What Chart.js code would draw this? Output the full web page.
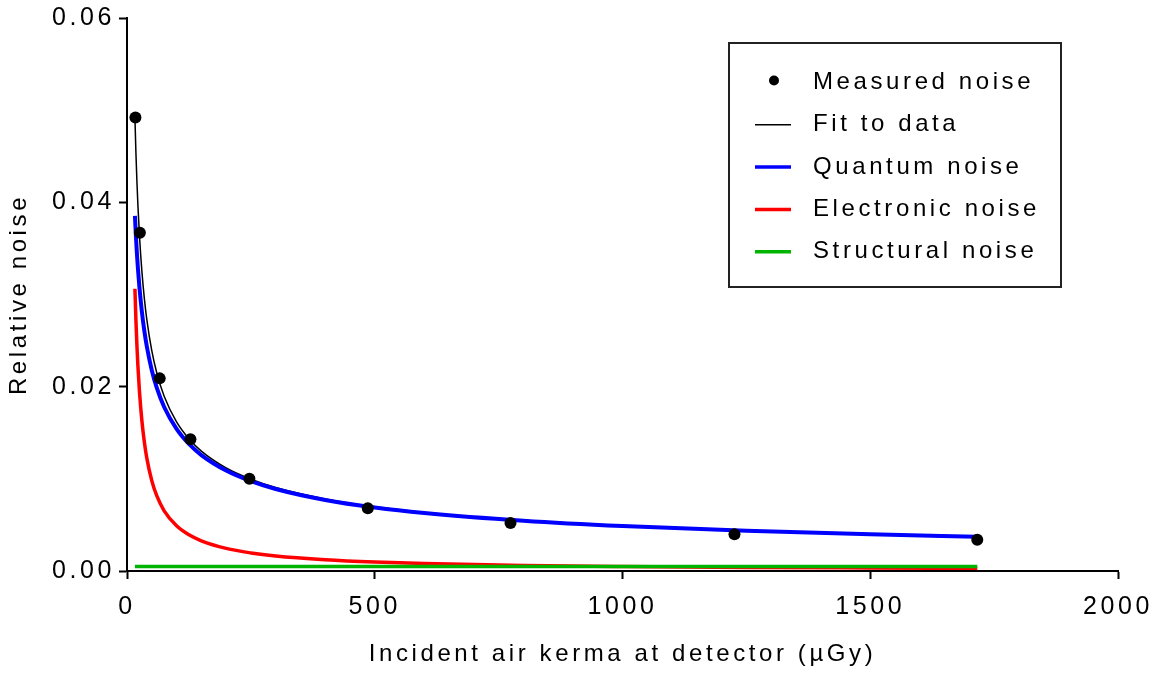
<!DOCTYPE html>
<html>
<head>
<meta charset="utf-8">
<script src="https://cdn.jsdelivr.net/npm/chart.js@4/dist/chart.umd.min.js"></script>
<style>
  html, body { margin: 0; padding: 0; background: #fff; }
  #wrap { width: 1158px; height: 673px; }
</style>
</head>
<body>
<div id="wrap"><canvas id="noiseChart" width="1158" height="673"></canvas></div>
<script>
// measured points (air kerma in uGy, relative noise)
const measuredKerma = [17, 26, 66, 128, 247, 486, 774, 1226, 1716]
const measuredNoise = [0.0492, 0.0367, 0.0209, 0.0143, 0.0100, 0.0068, 0.0052, 0.0040, 0.0034]

// model curves, sampled along kerma
const curveKerma = [16, 18, 20, 22, 25, 30, 35, 40, 50, 60, 75, 100, 125, 150, 200, 250, 300, 400, 500, 600, 800, 1000, 1250, 1500, 1716]
const fitNoise = [0.04922, 0.04539, 0.04228, 0.0397, 0.03653, 0.03254, 0.02958, 0.02727, 0.0239, 0.02151, 0.01896, 0.01618, 0.01434, 0.01301, 0.01118, 0.00996, 0.00906, 0.00782, 0.00698, 0.00636, 0.00551, 0.00492, 0.00441, 0.00402, 0.00376]
const quantumNoise = [0.03853, 0.03632, 0.03446, 0.03286, 0.03082, 0.02814, 0.02605, 0.02436, 0.02179, 0.01989, 0.01779, 0.01541, 0.01378, 0.01258, 0.0109, 0.00975, 0.0089, 0.00771, 0.00689, 0.00629, 0.00545, 0.00487, 0.00436, 0.00398, 0.00372]
const electronicNoise = [0.03063, 0.02722, 0.0245, 0.02227, 0.0196, 0.01633, 0.014, 0.01225, 0.0098, 0.00817, 0.00653, 0.0049, 0.00392, 0.00327, 0.00245, 0.00196, 0.00163, 0.00123, 0.00098, 0.00082, 0.00061, 0.00049, 0.00039, 0.00033, 0.00029]
const structuralKerma = [16, 1716]
const structuralNoise = [0.0005, 0.0005]

const xTicks = [0, 500, 1000, 1500, 2000]
const yTicks = [0, 0.02, 0.04, 0.06]

const FONT_FAMILY = "'Liberation Sans', Arial, sans-serif"
const FONT_SIZE = 24
const LETTER_SPACING = '3.6px'

const toPoints = (xs, ys) => xs.map((x, i) => ({x: x, y: ys[i]}))

// wide tracking on every piece of text on the canvas
const spacing = {
    id: 'spacing',
    beforeLayout(chart) { chart.ctx.letterSpacing = LETTER_SPACING },
    beforeDraw(chart) { chart.ctx.letterSpacing = LETTER_SPACING }
}

// boxed legend in the upper right
const boxLegend = {
    id: 'boxLegend',
    afterDraw(chart) {
        const ctx = chart.ctx
        ctx.save()
        ctx.letterSpacing = LETTER_SPACING
        ctx.strokeStyle = '#222'
        ctx.lineWidth = 2
        ctx.strokeRect(729, 43, 332, 244)
        ctx.font = `${FONT_SIZE}px ${FONT_FAMILY}`
        ctx.textBaseline = 'middle'
        ctx.textAlign = 'left'
        chart.data.datasets.forEach((ds, i) => {
            const y = 82.5 + i * 42.3
            if (ds.showLine) {
                ctx.strokeStyle = ds.borderColor
                ctx.lineWidth = Math.min(ds.borderWidth, 3.5)
                ctx.beginPath()
                ctx.moveTo(755, y)
                ctx.lineTo(791, y)
                ctx.stroke()
            } else {
                ctx.fillStyle = ds.backgroundColor
                ctx.beginPath()
                ctx.arc(774, y - 2, 5, 0, Math.PI * 2)
                ctx.fill()
            }
            ctx.fillStyle = '#000'
            ctx.fillText(ds.label, 813, y)
        })
        ctx.restore()
    }
}

const axisFont = {family: FONT_FAMILY, size: FONT_SIZE}
const tickFont = {family: FONT_FAMILY, size: 25}

const ctx = document.getElementById('noiseChart').getContext('2d')
const chart = new Chart(ctx, {
    type: 'scatter',
    data: {
        datasets: [{
            label: 'Measured noise',
            data: toPoints(measuredKerma, measuredNoise),
            showLine: false,
            pointRadius: 6,
            pointHoverRadius: 6,
            backgroundColor: '#000',
            borderWidth: 0,
            order: 0
        }, {
            label: 'Fit to data',
            data: toPoints(curveKerma, fitNoise),
            showLine: true,
            borderColor: '#000',
            borderWidth: 1.5,
            pointRadius: 0,
            cubicInterpolationMode: 'monotone',
            order: 4
        }, {
            label: 'Quantum noise',
            data: toPoints(curveKerma, quantumNoise),
            showLine: true,
            borderColor: '#0000ff',
            borderWidth: 4,
            pointRadius: 0,
            cubicInterpolationMode: 'monotone',
            order: 2
        }, {
            label: 'Electronic noise',
            data: toPoints(curveKerma, electronicNoise),
            showLine: true,
            borderColor: '#ff0000',
            borderWidth: 3.5,
            pointRadius: 0,
            cubicInterpolationMode: 'monotone',
            order: 3
        }, {
            label: 'Structural noise',
            data: toPoints(structuralKerma, structuralNoise),
            showLine: true,
            borderColor: '#00b400',
            borderWidth: 3.5,
            pointRadius: 0,
            order: 1
        }]
    },
    options: {
        responsive: false,
        devicePixelRatio: 1,
        animation: false,
        layout: {padding: {left: 0, top: 18, right: 40, bottom: 0}},
        plugins: {
            legend: {display: false},
            tooltip: {enabled: false}
        },
        scales: {
            x: {
                type: 'linear',
                min: 0,
                max: 2000,
                afterFit: (scale) => {
                    scale.height = 102
                    scale.paddingLeft = 0
                    scale.paddingRight = 0
                },
                afterBuildTicks: (scale) => { scale.ticks = xTicks.map(v => ({value: v})) },
                ticks: {
                    color: '#000',
                    font: tickFont,
                    padding: 13,
                    maxRotation: 0,
                    callback: (v) => String(v)
                },
                grid: {drawOnChartArea: false, drawTicks: true, tickLength: 8, tickWidth: 2, tickColor: '#000'},
                border: {color: '#000', width: 2},
                title: {
                    display: true,
                    text: 'Incident air kerma at detector (\u00b5Gy)',
                    color: '#000',
                    font: axisFont,
                    padding: {top: 0, bottom: 4}
                }
            },
            y: {
                min: 0,
                max: 0.06,
                afterFit: (scale) => {
                    scale.width = 127
                    scale.paddingTop = 0
                    scale.paddingBottom = 0
                },
                afterBuildTicks: (scale) => { scale.ticks = yTicks.map(v => ({value: v})) },
                ticks: {
                    color: '#000',
                    font: tickFont,
                    padding: 4,
                    callback: (v) => v.toFixed(2)
                },
                grid: {drawOnChartArea: false, drawTicks: true, tickLength: 8, tickWidth: 2, tickColor: '#000'},
                border: {color: '#000', width: 2},
                title: {
                    display: true,
                    text: 'Relative noise',
                    color: '#000',
                    font: axisFont,
                    padding: {top: 5, bottom: 0}
                }
            }
        }
    },
    plugins: [spacing, boxLegend]
})
</script>
</body>
</html>
